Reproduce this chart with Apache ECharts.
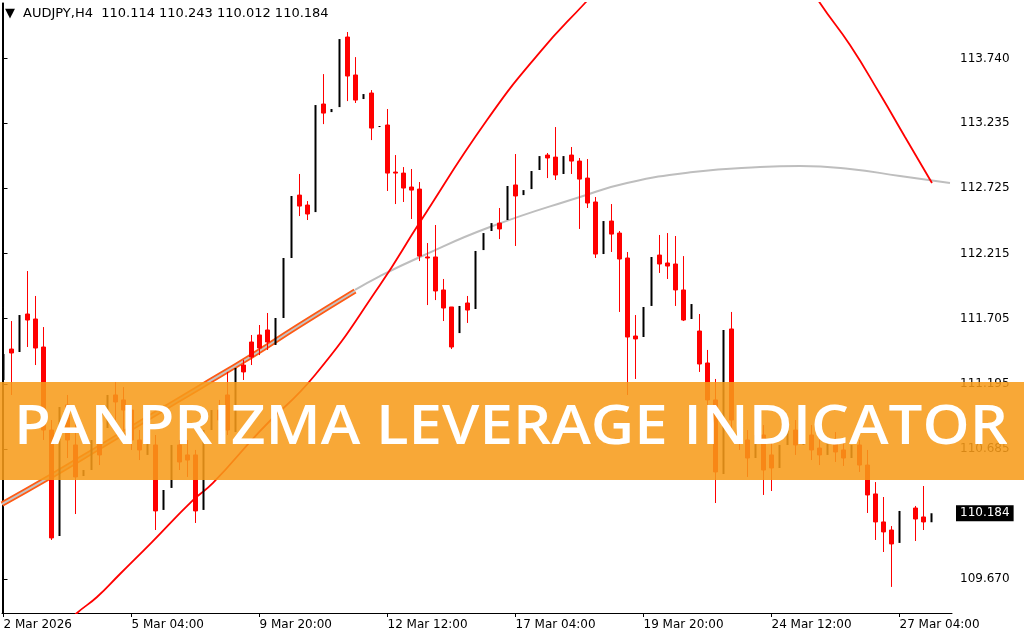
<!DOCTYPE html>
<html><head><meta charset="utf-8">
<script src="https://cdn.jsdelivr.net/npm/echarts@6/dist/echarts.min.js"></script>
<style>html,body{margin:0;padding:0;background:#fff;}#c{width:1024px;height:640px;}</style>
</head><body><div id="c"></div>
<script>
const symbolName = 'AUDJPY,H4';
const bannerText = 'PANPRIZMA LEVERAGE INDICATOR';
const xTickIdx = [0,16,32,48,64,80,96,112];
const xTickLabels = ['2 Mar 2026','5 Mar 04:00','9 Mar 20:00','12 Mar 12:00','17 Mar 04:00','19 Mar 20:00','24 Mar 12:00','27 Mar 04:00'];
const yTicks = [109.670,110.685,111.195,111.705,112.215,112.725,113.235,113.740];

const opens = [
111.226,111.468,111.445,111.742,111.703,111.484,110.835,110.006,111.031,110.718,
110.475,110.522,110.757,110.851,111.109,111.070,110.991,110.757,110.640,110.718,
110.210,110.382,110.718,110.640,110.640,110.210,110.835,110.991,111.109,110.819,
111.343,111.523,111.578,111.617,111.500,111.711,112.180,112.672,112.594,112.539,
113.384,113.321,113.360,113.908,113.611,113.423,113.470,113.204,113.220,112.852,
112.844,112.735,112.719,112.188,112.188,111.930,111.797,111.593,111.828,111.781,
112.242,112.391,112.453,112.477,112.751,112.672,112.719,112.868,112.985,112.969,
112.837,112.985,112.938,112.805,112.618,112.211,112.469,112.375,112.180,111.570,
111.562,111.805,112.203,112.141,112.133,111.930,111.703,111.609,111.359,111.070,
110.491,111.625,110.913,110.757,110.616,110.796,110.640,110.538,110.718,110.835,
110.718,110.796,110.694,110.640,110.757,110.679,110.616,110.718,110.561,110.335,
110.116,110.053,109.952,110.202,110.225,110.155,110.114];
const closes = [
111.429,111.437,111.734,111.695,111.476,110.835,109.991,111.015,110.757,110.468,
110.522,110.757,110.640,111.109,111.054,110.991,110.757,110.679,110.835,110.202,
110.366,110.718,110.585,110.600,110.202,110.835,110.991,110.913,110.835,111.320,
111.289,111.406,111.476,111.523,111.711,112.180,112.665,112.586,112.524,113.376,
113.313,113.345,113.892,113.603,113.415,113.462,113.196,113.212,112.844,112.844,
112.727,112.711,112.195,112.180,111.922,111.789,111.484,111.805,111.773,112.235,
112.375,112.453,112.407,112.743,112.665,112.711,112.860,112.977,112.962,112.829,
112.977,112.938,112.797,112.610,112.211,112.469,112.367,112.172,111.562,111.547,
111.797,112.188,112.133,112.117,111.930,111.695,111.820,111.351,111.070,110.507,
111.617,110.913,110.757,110.616,110.796,110.522,110.538,110.718,110.835,110.718,
110.796,110.679,110.640,110.757,110.663,110.616,110.718,110.561,110.327,110.116,
110.038,109.944,110.202,110.202,110.139,110.116,110.184];
const lows = [
111.226,111.109,111.445,111.484,111.343,110.757,109.975,110.006,110.616,110.178,
110.475,110.522,110.561,110.851,110.913,110.835,110.679,110.600,110.640,110.053,
110.210,110.382,110.522,110.468,110.108,110.210,110.835,110.835,110.796,110.819,
111.226,111.343,111.421,111.461,111.500,111.711,112.180,112.508,112.477,112.539,
113.227,113.321,113.360,113.407,113.392,113.423,113.102,113.204,112.704,112.602,
112.618,112.485,112.156,111.812,111.851,111.687,111.468,111.593,111.672,111.781,
112.242,112.391,112.328,112.477,112.274,112.672,112.719,112.868,112.805,112.790,
112.837,112.837,112.407,112.571,112.180,112.211,112.227,111.758,111.109,111.234,
111.562,111.805,112.063,112.016,111.805,111.687,111.703,111.289,110.991,110.264,
110.491,110.835,110.679,110.468,110.616,110.327,110.358,110.538,110.718,110.640,
110.718,110.600,110.561,110.640,110.585,110.554,110.616,110.507,110.186,109.975,
109.881,109.608,109.952,110.163,109.967,110.053,110.012];
const highs = [
111.429,111.687,111.734,112.078,111.883,111.640,110.913,111.015,111.109,110.913,
110.522,110.757,110.835,111.109,111.210,111.171,111.031,110.835,110.835,110.796,
110.366,110.718,110.757,110.757,110.679,110.835,110.991,111.070,111.289,111.320,
111.382,111.578,111.656,111.750,111.711,112.180,112.665,112.837,112.625,113.376,
113.618,113.345,113.892,113.947,113.751,113.462,113.493,113.212,113.345,112.985,
112.891,112.876,112.774,112.297,112.438,112.016,111.797,111.805,111.883,112.235,
112.375,112.453,112.571,112.743,112.993,112.711,112.860,112.977,113.001,113.204,
112.977,113.048,112.962,112.954,112.657,112.469,112.602,112.391,112.227,111.734,
111.797,112.188,112.360,112.375,112.352,112.195,111.820,111.742,111.461,111.234,
111.617,111.758,110.991,110.835,110.796,110.874,110.757,110.718,110.835,110.913,
110.796,110.874,110.772,110.757,110.819,110.757,110.718,110.757,110.679,110.428,
110.311,110.084,110.202,110.225,110.241,110.397,110.243];

// overlay indicator lines: [bar index, price]
const redCurve = [[5.69,109.193],[9.19,109.404],[11.69,109.529],[14.56,109.709],[18.56,109.959],[23.69,110.287],[26.19,110.421],[32.06,110.827],[38.94,111.265],[47.06,111.969],[52.06,112.461],[60.44,113.259],[67.06,113.790],[72.69,114.174],[78.31,114.549],[87.06,114.862],[94.56,114.783],[99.56,114.432],[102.06,114.174],[105.81,113.845],[109.56,113.462],[112.69,113.126],[116.06,112.766]];
const grayCurve = [[43.94,111.930],[47.06,112.039],[52.06,112.188],[60.81,112.422],[72.06,112.657],[77.94,112.766],[86.19,112.852],[94.56,112.891],[99.56,112.899],[105.81,112.876],[112.06,112.821],[118.31,112.766]];
const orangeBand = [[-0.19,110.256],[5.81,110.468],[12.06,110.702],[18.31,110.937],[24.56,111.171],[30.81,111.406],[37.06,111.656],[43.94,111.922]];

const yMin = 109.404, yMax = 114.174;
const xMin = -0.1875, xMax = 118.5625;

const bull = [], bear = [];
opens.forEach((o, i) => {
  const item = [i, o, closes[i], lows[i], highs[i]];
  if (closes[i] >= o) bull.push(item); else bear.push(item);
});
const last = opens.length - 1;
const lastClose = closes[last];
const titleText = '{tri|\u25BC}' + symbolName + '  ' + [opens[last], highs[last], lows[last], closes[last]].map(v => v.toFixed(3)).join(' ');

const bannerFont = '600 54px "Open Sans"';
const cv = document.createElement('canvas').getContext('2d');
cv.font = bannerFont;
const bw = cv.measureText(bannerText).width;
const bannerScale = 994 / bw;

const chart = echarts.init(document.getElementById('c'), null, {renderer: 'canvas'});
const lblFont = {fontFamily: 'DejaVu Sans', fontSize: 12, color: '#000'};
chart.setOption({
  animation: false,
  backgroundColor: '#fff',
  title: {text: titleText, left: 5, top: 7, padding: 0, textStyle: {fontFamily: 'DejaVu Sans', fontSize: 13, fontWeight: 'normal', color: '#000',
    rich: {tri: {fontFamily: 'DejaVu Sans', fontSize: 13, color: '#000', width: 18}}}},
  grid: {left: 2, top: 3, width: 950, height: 610, containLabel: false},
  xAxis: {
    type: 'value', min: xMin, max: xMax,
    axisLine: {show: true, lineStyle: {color: '#000', width: 1}},
    axisTick: {show: true, customValues: xTickIdx, length: 4, lineStyle: {color: '#000'}},
    axisLabel: Object.assign({customValues: xTickIdx, align: 'left', margin: 6,
      formatter: v => xTickLabels[xTickIdx.indexOf(Math.round(v))] || ''}, lblFont),
    splitLine: {show: false}
  },
  yAxis: [{
    type: 'value', position: 'right', min: yMin, max: yMax,
    axisLine: {show: true, lineStyle: {color: '#000', width: 1}},
    axisTick: {show: true, customValues: yTicks, length: 4, lineStyle: {color: '#000'}},
    axisLabel: Object.assign({customValues: yTicks.concat([lastClose]), margin: 4,
      formatter: v => Math.abs(v - lastClose) < 1e-9 ? '{last|' + v.toFixed(3) + '}' : '{n|' + v.toFixed(3) + '}',
      rich: {
        n: {fontFamily: 'DejaVu Sans', fontSize: 12, color: '#000', padding: [0, 0, 0, 4]},
        last: {fontFamily: 'DejaVu Sans', fontSize: 12, color: '#fff', backgroundColor: '#000', padding: [2, 4, 2, 4]}
      }}, lblFont),
    splitLine: {show: false}
  }, {
    type: 'value', position: 'left', min: yMin, max: yMax,
    axisLine: {show: true, lineStyle: {color: '#000', width: 1}},
    axisTick: {show: false}, axisLabel: {show: false}, splitLine: {show: false}
  }],
  series: [
    {type: 'line', data: orangeBand, smooth: true, symbol: 'none', lineStyle: {color: '#FF5A14', width: 5.5}, z: 2, silent: true},
    {type: 'line', data: orangeBand, smooth: true, symbol: 'none', lineStyle: {color: '#C4C4C4', width: 2}, z: 2, silent: true},
    {type: 'line', data: grayCurve, smooth: true, symbol: 'none', lineStyle: {color: '#BEBEBE', width: 2}, z: 2, silent: true},
    {type: 'line', data: redCurve, smooth: true, symbol: 'none', lineStyle: {color: '#FF0000', width: 1.8}, z: 2, silent: true},
    {type: 'candlestick', data: bear, barWidth: 4, z: 3, silent: true,
      itemStyle: {color: '#FF0000', color0: '#FF0000', borderColor: '#FF0000', borderColor0: '#FF0000', borderWidth: 1}},
    {type: 'candlestick', data: bull, barWidth: 3, z: 3, silent: true,
      itemStyle: {color: '#000', color0: '#000', borderColor: 'rgba(0,0,0,0)', borderColor0: 'rgba(0,0,0,0)', borderWidth: 0}}
  ],
  graphic: [
    {type: 'rect', shape: {x: 0, y: 382, width: 1024, height: 98}, style: {fill: 'rgba(247,155,25,0.87)'}, z: 100, silent: true},
    {type: 'text', x: 14, y: 429, scaleX: bannerScale, z: 101, silent: true,
      style: {text: bannerText, font: bannerFont, fill: '#fff', align: 'left', verticalAlign: 'middle', textAlign: 'left', textVerticalAlign: 'middle'}}
  ]
});
</script></body></html>
